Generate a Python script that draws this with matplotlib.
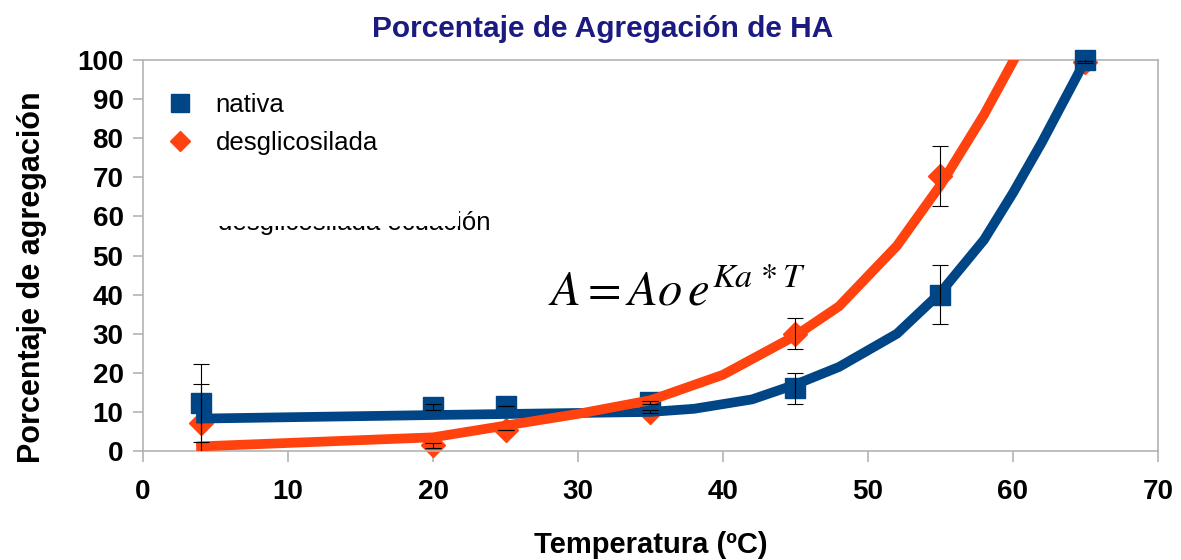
import matplotlib
matplotlib.use("Agg")
import matplotlib.pyplot as plt
from matplotlib.patches import Rectangle
from matplotlib.lines import Line2D

plt.rcParams['font.family'] = ['Liberation Sans', 'DejaVu Sans']
plt.rcParams['mathtext.fontset'] = 'stix'

# datos medidos
temp = [4, 20, 25, 35, 45, 55, 65]
nativa = [12.3, 11.2, 11.5, 12.5, 16.0, 40.0, 100.0]
nativa_err = [9.9, 0.7, 0.0, 0.4, 4.0, 7.5, 0.3]
desgli = [7.2, 1.5, 5.5, 10.0, 30.0, 70.3, 99.5]
desgli_err = [9.9, 0.6, 0.0, 0.4, 3.9, 7.6, 0.3]

# curvas de ajuste
fit_nat_x = [4, 20, 35, 38, 42, 45, 48, 52, 55, 58, 60, 62, 65]
fit_nat_y = [8.3, 9.2, 10.0, 10.8, 13.2, 17.0, 21.5, 30.0, 40.5, 54.0, 66.0, 79.0, 100.0]
fit_des_x = [4, 20, 25, 30, 35, 40, 45, 48, 52, 55, 58, 60.5]
fit_des_y = [1.2, 3.5, 6.5, 9.5, 13.0, 19.5, 29.5, 37.0, 52.5, 68.0, 86.0, 103.0]

azul = '#004586'
naranja = '#ff420e'
gris = '#b3b3b3'

fig = plt.figure(figsize=(11.81, 5.6), dpi=100)
ax = fig.add_axes([0.1211, 0.1946, 0.8594, 0.6983])

ax.plot(temp, desgli, 'D', color=naranja, markersize=12, zorder=2, clip_on=False)
ax.plot(temp, nativa, 's', color=azul, markersize=14, zorder=3, clip_on=False)
ax.plot(fit_nat_x, fit_nat_y, '-', color=azul, linewidth=7, zorder=4, solid_joinstyle='miter')
ax.plot(fit_des_x, fit_des_y, '-', color=naranja, linewidth=7, zorder=5, solid_joinstyle='miter')
ax.errorbar(temp, nativa, yerr=nativa_err, fmt='none', ecolor='black', elinewidth=0.8,
            capsize=5.5, capthick=0.8, zorder=6)
ax.errorbar(temp, desgli, yerr=desgli_err, fmt='none', ecolor='black', elinewidth=0.8,
            capsize=5.5, capthick=0.8, zorder=6)

ax.set_xlim(0, 70)
ax.set_ylim(0, 100)
ax.set_xticks(range(0, 71, 10))
ax.set_yticks(range(0, 101, 10))
for s in ax.spines.values():
    s.set_color(gris)
    s.set_linewidth(1.2)
ax.tick_params(axis='x', direction='out', length=8, color=gris, width=1.2, pad=12)
ax.tick_params(axis='y', direction='out', length=7, color=gris, width=1.2, pad=7)
for lab in ax.get_xticklabels() + ax.get_yticklabels():
    lab.set_fontsize(20)
    lab.set_fontweight('bold')

ax.set_xlabel('Temperatura (ºC)', fontsize=21, fontweight='bold', labelpad=19)
ax.set_ylabel('Porcentaje de agregación', fontsize=22, fontweight='bold', labelpad=26)
ax.yaxis.set_label_coords(-0.095, 0.445)
fig.text(0.51, 0.948, 'Porcentaje de Agregación de HA', ha='center', va='center',
         fontsize=21.5, fontweight='bold', color='#1a1a80')

# leyenda
handles = [Line2D([], [], marker='s', color=azul, linestyle='none', markersize=13),
           Line2D([], [], marker='D', color=naranja, linestyle='none', markersize=10)]
ax.legend(handles, ['nativa', 'desglicosilada'], loc='upper left', frameon=False,
          fontsize=18.5, bbox_to_anchor=(-0.012, 0.975), handletextpad=0.4,
          labelspacing=0.55)

# texto de ecuacion tapado parcialmente
ax.text(5.2, 56.6, 'desglicosilada ecuación', fontsize=18.5, va='baseline', zorder=7)
ax.add_patch(Rectangle((5.0, 57.6), 16.8, 9, facecolor='white', edgecolor='none', zorder=8))

ax.text(27.9, 40.5, r'$A = Ao\,e^{Ka\,*T}$', fontsize=35, va='center', ha='left', zorder=7)

fig.savefig('out.png', dpi=100)
